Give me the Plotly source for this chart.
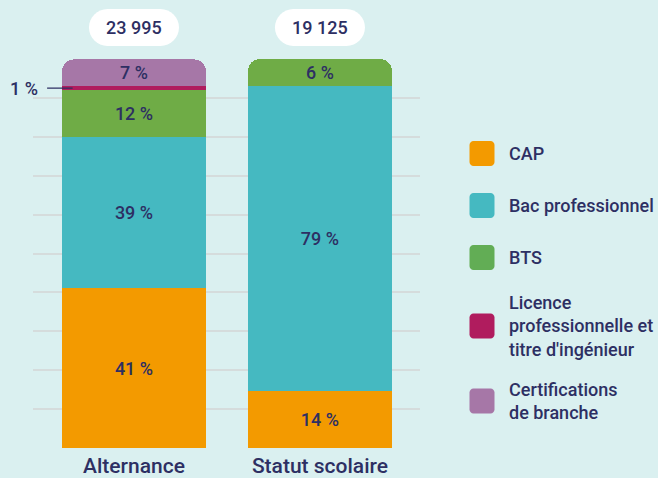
"""
Stacked bar chart: répartition des diplômes préparés, alternance vs statut scolaire
"""

import plotly.graph_objects as go

# Data
categories = ["Alternance", "Statut scolaire"]
totals = ["23 995", "19 125"]

series_names = ["CAP", "Bac professionnel", "BTS",
                "Licence<br>professionnelle et<br>titre d'ingénieur",
                "Certifications<br>de branche"]
cap = [41.1, 14.6]
bac_pro = [38.8, 78.5]
bts = [12.1, 6.9]
licence = [1.0, 0]
certifications = [6.9, 0]

cap_labels = ["41 %", "14 %"]
bac_pro_labels = ["39 %", "79 %"]
bts_labels = ["12 %", "6 %"]
licence_labels = ["", ""]
certifications_labels = ["7 %", ""]
licence_callout = "1 %"

colors = {
    'cap': '#f39a00',
    'bac': '#45b9c1',
    'bts': '#6fac46',
    'licence': '#b01c5e',
    'cert': '#a677a7',
}
legend_colors = ['#f39a00', '#45b9c1', '#62ad55', '#b01c5e', '#a677a7']
navy = '#2d2f63'
bg = '#daf0f0'
font_family = "Roboto, 'Open Sans', sans-serif"

# Plot area geometry (pixels) used to place decorations
PLOT_TOP, PLOT_BOTTOM = 59, 448
PLOT_LEFT, PLOT_RIGHT = 33, 420


def rounded_rect(w, h, r):
    """SVG path of a rounded rectangle centred on (0, 0), in pixels"""
    k = 0.5523 * r
    x0, x1, y0, y1 = -w / 2, w / 2, -h / 2, h / 2
    return (
        f"M{x0 + r},{y0} L{x1 - r},{y0} "
        f"C{x1 - r + k},{y0} {x1},{y0 + r - k} {x1},{y0 + r} "
        f"L{x1},{y1 - r} "
        f"C{x1},{y1 - r + k} {x1 - r + k},{y1} {x1 - r},{y1} "
        f"L{x0 + r},{y1} "
        f"C{x0 + r - k},{y1} {x0},{y1 - r + k} {x0},{y1 - r} "
        f"L{x0},{y0 + r} "
        f"C{x0},{y0 + r - k} {x0 + r - k},{y0} {x0 + r},{y0} Z"
    )


def py(pixel_y):
    """Convert a page pixel y into paper coordinates"""
    return (PLOT_BOTTOM - pixel_y) / (PLOT_BOTTOM - PLOT_TOP)


def px_(pixel_x):
    """Convert a page pixel x into paper coordinates"""
    return (pixel_x - PLOT_LEFT) / (PLOT_RIGHT - PLOT_LEFT)


fig = go.Figure()

stack = [
    (series_names[0], cap, cap_labels, colors['cap']),
    (series_names[1], bac_pro, bac_pro_labels, colors['bac']),
    (series_names[2], bts, bts_labels, colors['bts']),
    (series_names[3], licence, licence_labels, colors['licence']),
    (series_names[4], certifications, certifications_labels, colors['cert']),
]

for name, values, labels, color in stack:
    fig.add_trace(go.Bar(
        x=categories,
        y=values,
        name=name,
        marker=dict(color=color, line=dict(width=0)),
        text=labels,
        textposition='inside',
        insidetextanchor='middle',
        constraintext='none',
        textfont=dict(color=navy, size=18, family=font_family, weight=500),
        hoverinfo='skip',
    ))

# Total pills above each bar
for cat, total in zip(categories, totals):
    fig.add_shape(
        type='path',
        xref='x', yref='paper',
        xsizemode='pixel', ysizemode='pixel',
        xanchor=cat, yanchor=py(27.5),
        path=rounded_rect(90, 37, 18.5),
        fillcolor='white', line=dict(width=0),
        layer='above',
    )
    fig.add_annotation(
        x=cat, y=py(27.5), xref='x', yref='paper',
        xanchor='center', yanchor='middle',
        text=total, showarrow=False,
        font=dict(color=navy, size=18, family=font_family, weight=500),
    )

# Call-out for the thin licence segment
licence_mid = cap[0] + bac_pro[0] + bts[0] + licence[0] / 2
fig.add_annotation(
    x=-0.33, y=licence_mid, xref='x', yref='y',
    text=licence_callout,
    showarrow=True, arrowhead=0, arrowwidth=1.2, arrowcolor=navy,
    ax=-49, ay=0, startstandoff=8,
    font=dict(color=navy, size=18, family=font_family, weight=500),
)

# Custom legend
legend_y = [153.5, 205.5, 257.5, 326, 401]
for name, color, y in zip(series_names, legend_colors, legend_y):
    fig.add_shape(
        type='path',
        xref='paper', yref='paper',
        xsizemode='pixel', ysizemode='pixel',
        xanchor=px_(482), yanchor=py(y),
        path=rounded_rect(25, 25, 4),
        fillcolor=color, line=dict(width=0),
    )
    fig.add_annotation(
        x=px_(507), y=py(y), xref='paper', yref='paper',
        xanchor='left', yanchor='middle', align='left',
        text=name, showarrow=False,
        font=dict(color=navy, size=18, family=font_family, weight=500),
    )

fig.update_layout(
    barmode='stack',
    bargap=0.226,
    barcornerradius=12,
    showlegend=False,
    width=658, height=478,
    margin=dict(l=PLOT_LEFT, r=658 - PLOT_RIGHT, t=PLOT_TOP, b=478 - PLOT_BOTTOM, pad=0,
                autoexpand=False),
    paper_bgcolor=bg,
    plot_bgcolor=bg,
    font=dict(family=font_family, color=navy),
    xaxis=dict(
        range=[-0.543, 1.538],
        showgrid=False, zeroline=False, showline=False, ticks='',
        automargin=False,
        ticklabelstandoff=3,
        tickfont=dict(size=21, color=navy, family=font_family, weight=500),
    ),
    yaxis=dict(
        range=[0, 100], dtick=10,
        showgrid=True, gridcolor='#d5dcdc', gridwidth=1.5,
        zeroline=False, showticklabels=False, ticks='',
        automargin=False,
    ),
)

# drop the default page margin so the figure sits flush in the window
fig.write_html("out.html", config={'displayModeBar': False},
               post_script="document.body.style.margin='0';")
